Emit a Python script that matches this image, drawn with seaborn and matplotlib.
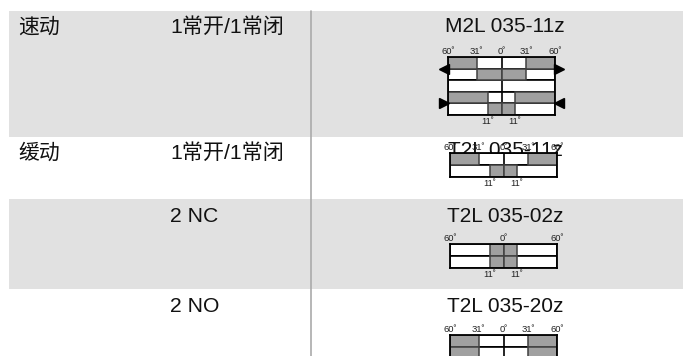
import matplotlib
matplotlib.use("Agg")
import matplotlib.pyplot as plt
import seaborn as sns

sns.set_theme(style="white")
plt.rcParams['font.family'] = ['Liberation Sans', 'Noto Sans CJK SC']

W, H = 683, 356

# table text
col1 = ["速动", "缓动", "", ""]
col2 = ["1常开/1常闭", "1常开/1常闭", "2 NC", "2 NO"]
models = ["M2L 035-11z", "T2L 035-11z", "T2L 035-02z", "T2L 035-20z"]

# contact diagrams: each row is a list of gray (start, end) spans, in drawn units
# 31 and 11 degree marks are not to scale in the original so they sit at 28 and 15
outer31 = [(-60, -28), (28, 60)]
inner31 = [(-28, 0), (0, 28)]
outer11 = [(-60, -15), (15, 60)]
inner11 = [(-15, 0), (0, 15)]
m2l_rows = [outer31, inner31, [], outer11, inner11]
t2l11_rows = [outer31, inner11]
t2l02_rows = [inner11, inner11]
t2l20_rows = [outer31, outer31]

top_ticks = [[-60, -28, 0, 28, 60], [-60, -28, 0, 28, 60], [-60, 0, 60], [-60, -28, 0, 28, 60]]
top_labels = [["60˚", "31˚", "0˚", "31˚", "60˚"], ["60˚", "31˚", "0˚", "31˚", "60˚"], ["60˚", "0˚", "60˚"], ["60˚", "31˚", "0˚", "31˚", "60˚"]]
bottom_ticks = [[-15, 15], [-15, 15], [-15, 15], []]
bottom_labels = [["11˚", "11˚"], ["11˚", "11˚"], ["11˚", "11˚"], []]


def make_axes(fig, x0, y0, x1, y1):
    return fig.add_axes([x0 / W, 1 - y1 / H, (x1 - x0) / W, (y1 - y0) / H])


def draw_diagram(fig, rows, box, ticks, labels, bticks, blabels):
    ax = make_axes(fig, *box)
    order = list(range(len(rows)))
    for i, spans in enumerate(rows):
        sns.barplot(x=[120], y=[i], order=order, orient="y", left=-60, width=1, color="white",
                    saturation=1, edgecolor="black", linewidth=1.2, ax=ax, zorder=2)
        sns.barplot(x=[60], y=[i], order=order, orient="y", left=-60, width=1, color="white",
                    saturation=1, edgecolor="black", linewidth=1.2, ax=ax, zorder=2)
        for a, b in spans:
            sns.barplot(x=[b - a], y=[i], order=order, orient="y", left=a, width=1, color="#a0a0a0",
                        saturation=1, edgecolor="#404040", linewidth=1.1, ax=ax, zorder=3)
    ax.set_xlim(-60, 60)
    ax.set_ylim(len(rows) - 0.5, -0.5)
    ax.set_xlabel("")
    ax.set_ylabel("")
    ax.set_yticks([])
    ax.set_xticks([])
    for s in ax.spines.values():
        s.set_visible(True)
        s.set_color("black")
        s.set_linewidth(1.3)
        s.set_zorder(5)
    for t, l in zip(ticks, labels):
        ax.annotate(l, (t, 1), xycoords=("data", "axes fraction"), xytext=(0, 1), textcoords="offset points",
                    ha="center", va="bottom", fontsize=6.8, color="#222222")
    for t, l in zip(bticks, blabels):
        ax.annotate(l, (t, 0), xycoords=("data", "axes fraction"), xytext=(0, -1.5), textcoords="offset points",
                    ha="center", va="top", fontsize=6.8, color="#222222")
    return ax


fig = plt.figure(figsize=(W / 100, H / 100), dpi=100)
bg = make_axes(fig, 0, 0, W, H)
bg.set_xlim(0, W)
bg.set_ylim(H, 0)
bg.axis("off")
for y0, y1 in [(11, 137), (199, 289)]:
    bg.axhspan(y0, y1, xmin=9 / W, color="#e1e1e1", lw=0)
bg.plot([311, 311], [11, 356], color="#aaaaaa", lw=1.2)

row_y = [27, 153, 216, 306]
for t, y in zip(col1, row_y):
    bg.text(18, y, t, fontsize=15, va="center", color="#111111")
for t, y in zip(col2, row_y):
    bg.text(170, y, t, fontsize=15.2, va="center", color="#111111")
for t, y in zip(models, [26, 150, 216, 306]):
    bg.text(505, y, t, fontsize=15, va="center", ha="center", color="#111111")

m = draw_diagram(fig, m2l_rows, (448, 57, 555, 115), top_ticks[0], top_labels[0], bottom_ticks[0], bottom_labels[0])
draw_diagram(fig, t2l11_rows, (450, 153, 557, 177), top_ticks[1], top_labels[1], bottom_ticks[1], bottom_labels[1])
draw_diagram(fig, t2l02_rows, (450, 244, 557, 268), top_ticks[2], top_labels[2], bottom_ticks[2], bottom_labels[2])
draw_diagram(fig, t2l20_rows, (450, 335, 557, 359), top_ticks[3], top_labels[3], bottom_ticks[3], bottom_labels[3])

# arrows beside the M2L diagram
m.plot([-64], [0.5], marker="<", color="black", ms=7, clip_on=False, zorder=6)
m.plot([64], [0.5], marker=">", color="black", ms=7, clip_on=False, zorder=6)
m.plot([-64], [3.5], marker=">", color="black", ms=7, clip_on=False, zorder=6)
m.plot([64], [3.5], marker="<", color="black", ms=7, clip_on=False, zorder=6)

fig.savefig("out.png", dpi=100)
